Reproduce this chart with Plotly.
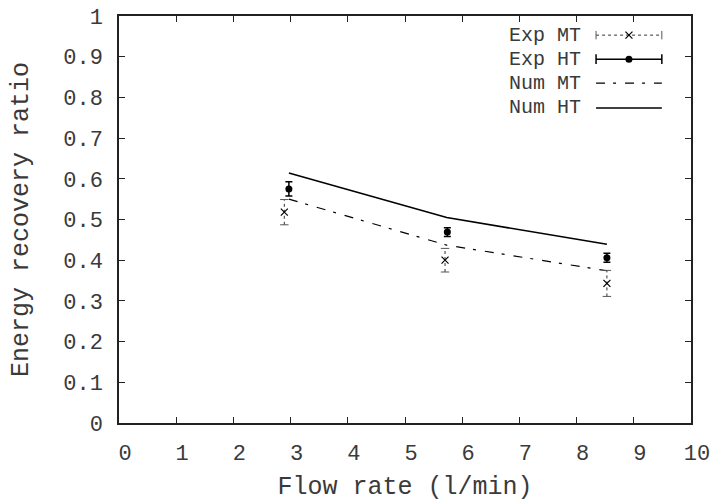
import plotly.graph_objects as go

# Flow rate (l/min) and energy recovery ratio
x_exp_mt = [2.89, 5.70, 8.53]
y_exp_mt = [0.518, 0.400, 0.343]
err_exp_mt = [0.031, 0.029, 0.032]

x_exp_ht = [2.97, 5.74, 8.53]
y_exp_ht = [0.575, 0.469, 0.406]
err_exp_ht = [0.0175, 0.011, 0.011]

x_num = [2.97, 5.73, 8.53]
y_num_mt = [0.550, 0.437, 0.374]
y_num_ht = [0.614, 0.505, 0.439]

legend_names = ["Exp MT", "Exp HT", "Num MT", "Num HT"]

FONT = "Liberation Mono, Courier New, monospace"
TXT = "#3a3a3a"
MT_DASH = "9px,8px,3px,9px"

fig = go.Figure()

# Num HT: solid line
fig.add_trace(go.Scatter(x=x_num, y=y_num_ht, mode="lines",
                         line=dict(color="black", width=1.6), showlegend=False))
# Num MT: dash-dot line
fig.add_trace(go.Scatter(x=x_num, y=y_num_mt, mode="lines",
                         line=dict(color="black", width=1.2, dash=MT_DASH), showlegend=False))

# Exp MT: dotted error bars with small caps and cross markers
seg_x, seg_y = [], []
for xv, yv, ev in zip(x_exp_mt, y_exp_mt, err_exp_mt):
    seg_x += [xv, xv, None]
    seg_y += [yv - ev, yv + ev, None]
fig.add_trace(go.Scatter(x=seg_x, y=seg_y, mode="lines",
                         line=dict(color="#333", width=1, dash="dot"), showlegend=False))
cap_x = [xv for xv in x_exp_mt for _ in (0, 1)]
cap_y = [yv + s * ev for yv, ev in zip(y_exp_mt, err_exp_mt) for s in (-1, 1)]
fig.add_trace(go.Scatter(x=cap_x, y=cap_y, mode="markers",
                         marker=dict(symbol="line-ew", size=6, line=dict(color="#555", width=1)),
                         showlegend=False))
fig.add_trace(go.Scatter(x=x_exp_mt, y=y_exp_mt, mode="markers",
                         marker=dict(symbol="x-thin", size=7, line=dict(color="black", width=1.2)),
                         showlegend=False))

# Exp HT: solid error bars with filled circles
fig.add_trace(go.Scatter(x=x_exp_ht, y=y_exp_ht, mode="markers",
                         marker=dict(symbol="circle", size=7, color="black"),
                         error_y=dict(type="data", array=err_exp_ht, visible=True,
                                      color="black", thickness=1.5, width=3.5),
                         showlegend=False))

# Key in the top right corner: label followed by a line sample
row_y = [0.953, 0.894, 0.835, 0.774]
text_right = 0.811
s0, s1 = 0.834, 0.949
smid = (s0 + s1) / 2
for name, ry in zip(legend_names, row_y):
    fig.add_annotation(x=text_right, y=ry, xref="paper", yref="paper", text=name,
                       showarrow=False, xanchor="right", yanchor="middle",
                       font=dict(family=FONT, size=20, color=TXT))

k = dict(xaxis="x2", yaxis="y2", showlegend=False, hoverinfo="skip")
# Exp MT sample
fig.add_trace(go.Scatter(x=[s0, s1], y=[row_y[0]] * 2, mode="lines",
                         line=dict(color="#333", width=1, dash="dot"), **k))
fig.add_trace(go.Scatter(x=[s0, s1], y=[row_y[0]] * 2, mode="markers",
                         marker=dict(symbol="line-ns", size=6, line=dict(color="#555", width=1)), **k))
fig.add_trace(go.Scatter(x=[smid], y=[row_y[0]], mode="markers",
                         marker=dict(symbol="x-thin", size=7, line=dict(color="black", width=1.2)), **k))
# Exp HT sample
fig.add_trace(go.Scatter(x=[s0, s1], y=[row_y[1]] * 2, mode="lines+markers",
                         line=dict(color="black", width=1.5),
                         marker=dict(symbol="line-ns", size=7, line=dict(color="black", width=1.5)), **k))
fig.add_trace(go.Scatter(x=[smid], y=[row_y[1]], mode="markers",
                         marker=dict(symbol="circle", size=7, color="black"), **k))
# Num MT sample
fig.add_trace(go.Scatter(x=[s0, s1], y=[row_y[2]] * 2, mode="lines",
                         line=dict(color="black", width=1.2, dash=MT_DASH), **k))
# Num HT sample
fig.add_trace(go.Scatter(x=[s0, s1], y=[row_y[3]] * 2, mode="lines",
                         line=dict(color="black", width=1.6), **k))

axis_common = dict(showgrid=False, zeroline=False, showline=True, linecolor="#222",
                   linewidth=1.5, mirror="ticks", ticks="inside", ticklen=6,
                   tickcolor="#222", tickwidth=1, automargin=False,
                   tickfont=dict(family=FONT, size=22, color=TXT))

fig.update_layout(
    width=714, height=502,
    margin=dict(l=119, r=23, t=16, b=79),
    paper_bgcolor="white", plot_bgcolor="white",
    xaxis=dict(range=[0, 10], dtick=1, tick0=0, ticklabelshift=6, ticklabelstandoff=9,
               title=dict(text="Flow rate (l/min)", standoff=14,
                          font=dict(family=FONT, size=25, color=TXT)),
               **axis_common),
    yaxis=dict(range=[0, 1], dtick=0.1, tick0=0, ticklabelstandoff=10,
               title=dict(text="Energy recovery ratio", standoff=27,
                          font=dict(family=FONT, size=25, color=TXT)),
               **axis_common),
    xaxis2=dict(range=[0, 1], overlaying="x", visible=False, fixedrange=True),
    yaxis2=dict(range=[0, 1], overlaying="y", visible=False, fixedrange=True),
)

fig.write_html("out.html")
